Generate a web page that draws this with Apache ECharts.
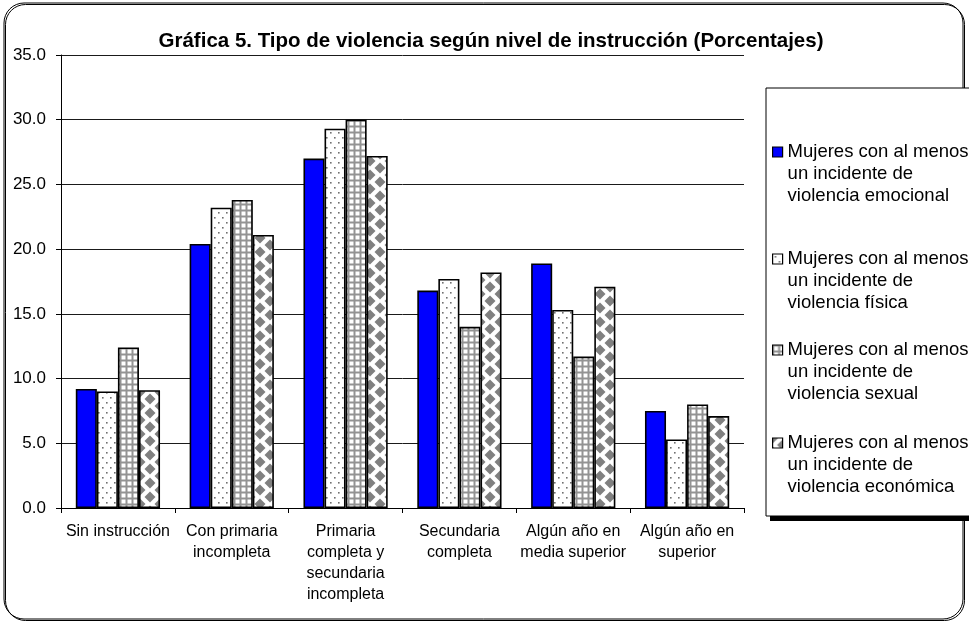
<!DOCTYPE html>
<html>
<head>
<meta charset="utf-8">
<script src="https://cdn.jsdelivr.net/npm/echarts@6/dist/echarts.min.js"></script>
<style>
  html, body { margin: 0; padding: 0; background: #fff; }
  #chart { width: 969px; height: 626px; }
</style>
</head>
<body>
<div id="chart"></div>
<script>
// Education levels (x axis)
var categories = [
  'Sin instrucción',
  'Con primaria\nincompleta',
  'Primaria\ncompleta y\nsecundaria\nincompleta',
  'Secundaria\ncompleta',
  'Algún año en\nmedia superior',
  'Algún año en\nsuperior'
];

// Percentages by violence type
var emocional = [9.2, 20.4, 27.0, 16.8, 18.9, 7.5];
var fisica    = [9.0, 23.2, 29.3, 17.7, 15.3, 5.3];
var sexual    = [12.4, 23.8, 30.0, 14.0, 11.7, 8.0];
var economica = [9.1, 21.1, 27.2, 18.2, 17.1, 7.1];

var seriesNames = [
  'Mujeres con al menos\nun incidente de\nviolencia emocional',
  'Mujeres con al menos\nun incidente de\nviolencia física',
  'Mujeres con al menos\nun incidente de\nviolencia sexual',
  'Mujeres con al menos\nun incidente de\nviolencia económica'
];

var yTicks = { min: 0, max: 35, step: 5 };

// --- fill patterns -------------------------------------------------------
function makeTile(w, h, draw) {
  var c = document.createElement('canvas');
  c.width = w; c.height = h;
  var ctx = c.getContext('2d');
  draw(ctx, w, h);
  return c;
}

var dotTile = makeTile(8, 10, function (ctx, w, h) {
  ctx.fillStyle = '#fff';
  ctx.fillRect(0, 0, w, h);
  ctx.fillStyle = '#707070';
  ctx.fillRect(2, 2, 1.6, 1.6);
  ctx.fillRect(6, 7, 1.6, 1.6);
});

var gridTile = makeTile(6, 6, function (ctx, w, h) {
  ctx.fillStyle = '#939393';
  ctx.fillRect(0, 0, w, h);
  ctx.fillStyle = '#fff';
  ctx.fillRect(1.5, 1.5, 4, 4);
});

var diamondTile = makeTile(20, 14, function (ctx, w, h) {
  ctx.fillStyle = '#fff';
  ctx.fillRect(0, 0, w, h);
  ctx.fillStyle = '#808080';
  function diamond(cx, cy) {
    ctx.beginPath();
    ctx.moveTo(cx, cy - 5.5);
    ctx.lineTo(cx + 5.5, cy);
    ctx.lineTo(cx, cy + 5.5);
    ctx.lineTo(cx - 5.5, cy);
    ctx.closePath();
    ctx.fill();
  }
  diamond(10, 7);
  diamond(0, 0); diamond(20, 0); diamond(0, 14); diamond(20, 14);
});

var fills = [
  '#0000ff',
  { image: dotTile, repeat: 'repeat' },
  { image: gridTile, repeat: 'repeat' },
  { image: diamondTile, repeat: 'repeat' }
];
var values = [emocional, fisica, sexual, economica];

var font = 'Liberation Sans, Arial, sans-serif';

var series = seriesNames.map(function (name, i) {
  return {
    name: name,
    type: 'bar',
    data: values[i],
    barGap: '0%',
    barCategoryGap: '26%',
    itemStyle: { color: fills[i], borderColor: '#000', borderWidth: 1.6 },
    emphasis: { disabled: true }
  };
});

// one legend block per series; two leading blank lines keep the
// marker level with the first line of each three-line label
var legendTops = [92, 199, 290, 383];
var legends = seriesNames.map(function (name, i) {
  return {
    data: [name],
    left: 767,
    top: legendTops[i],
    orient: 'vertical',
    icon: 'rect',
    itemWidth: 10,
    itemHeight: 10,
    itemGap: 4,
    selectedMode: false,
    z: 10,
    formatter: function (n) { return '\n\n' + n; },
    itemStyle: { borderColor: '#000', borderWidth: 1.2 },
    textStyle: {
      fontFamily: font,
      fontSize: 18.5,
      color: '#000',
      lineHeight: 22
    }
  };
});

var chart = echarts.init(document.getElementById('chart'), null, { renderer: 'canvas' });
chart.setOption({
  animation: false,
  backgroundColor: '#fff',
  title: {
    text: 'Gráfica 5. Tipo de violencia según nivel de instrucción (Porcentajes)',
    left: 486,
    textAlign: 'center',
    top: 26,
    textStyle: { fontFamily: font, fontSize: 20.5, fontWeight: 'bold', color: '#000' }
  },
  graphic: [
    {
      type: 'rect',
      z: -10,
      shape: { x: 4, y: 3, width: 959, height: 616, r: 20 },
      style: {
        fill: 'transparent', stroke: '#000', lineWidth: 1,
        shadowColor: '#000', shadowOffsetX: 1.5, shadowOffsetY: 1.5, shadowBlur: 0
      }
    },
    {
      // legend panel drop shadow
      type: 'rect',
      z: -6,
      shape: { x: 770, y: 92, width: 230, height: 429 },
      style: { fill: '#000' }
    },
    {
      type: 'rect',
      z: -5,
      shape: { x: 766, y: 88, width: 230, height: 428 },
      style: { fill: '#fff', stroke: '#000', lineWidth: 1 }
    }
  ],
  legend: legends,
  grid: { left: 61, top: 55, right: 225, bottom: 118, containLabel: false },
  xAxis: {
    type: 'category',
    data: categories,
    axisLine: { lineStyle: { color: '#000', width: 1 } },
    axisTick: { show: true, length: 5, lineStyle: { color: '#000' } },
    axisLabel: {
      interval: 0,
      fontFamily: font,
      fontSize: 16,
      lineHeight: 21,
      color: '#000',
      margin: 13
    }
  },
  yAxis: {
    type: 'value',
    min: yTicks.min,
    max: yTicks.max,
    interval: yTicks.step,
    axisLine: { show: true, lineStyle: { color: '#000', width: 1 } },
    axisTick: { show: true, length: 5, lineStyle: { color: '#000' } },
    splitLine: { lineStyle: { color: '#1a1a1a', width: 1 } },
    axisLabel: {
      fontFamily: font,
      fontSize: 17,
      color: '#000',
      margin: 15,
      formatter: function (v) { return v.toFixed(1); }
    }
  },
  series: series
});
</script>
</body>
</html>
